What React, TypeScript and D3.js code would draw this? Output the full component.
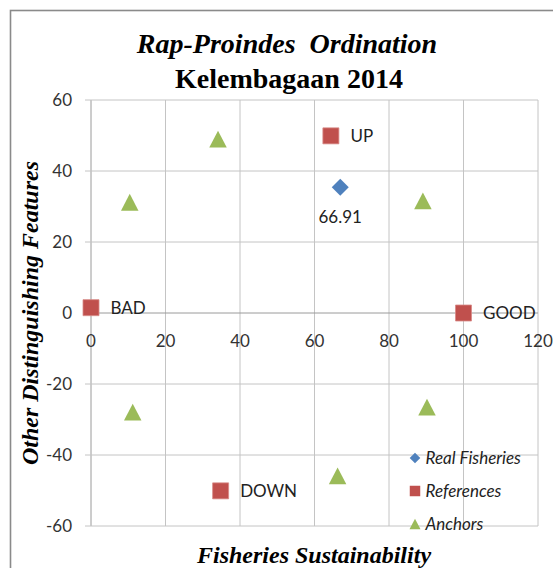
import * as d3 from "d3";

// chart values
const xTicks = [0, 20, 40, 60, 80, 100, 120];
const yTicks = [-60, -40, -20, 0, 20, 40, 60];

const realName = ["66.91"];
const realX = [66.91];
const realY = [35.4];

const refNames = ["BAD", "GOOD", "UP", "DOWN"];
const refX = [0, 100, 64.4, 34.8];
const refY = [1.5, 0, 49.9, -50.1];

const anchorX = [10.4, 34.1, 89.1, 11.2, 90.2, 66.2];
const anchorY = [31.2, 49, 31.6, -27.9, -26.5, -45.9];

const legendNames = ["Real Fisheries", "References", "Anchors"];

const W = 553;
const H = 568;
const BLUE = "#4F81BD";
const RED = "#C0504D";
const GREEN = "#9BBB59";
const LABEL_FONT = "Lato, 'Open Sans', sans-serif";
const SERIF = "'Liberation Serif', 'Times New Roman', serif";

// excel style triangle: centred on its bounding box
const triangleType = {
  draw(context, size) {
    const w = Math.sqrt(size);
    const h = w * 0.96;
    context.moveTo(0, -h / 2);
    context.lineTo(w / 2, h / 2);
    context.lineTo(-w / 2, h / 2);
    context.closePath();
  },
};

const App = () => {
  const x = d3.scaleLinear().domain([0, 120]).range([91, 538]);
  const y = d3.scaleLinear().domain([-60, 60]).range([526, 100]);

  const square = d3.symbol().type(d3.symbolSquare);
  const tri = d3.symbol().type(triangleType);

  const legendY = [458, 491, 524];

  return (
    <svg
      width={W}
      height={H}
      style={{ position: "absolute", left: 0, top: 0, background: "#fff" }}
    >
      <rect x={0} y={0} width={W} height={H} fill="#fff" />
      {/* outer frame, runs off the right and bottom */}
      <rect
        x={10.5}
        y={10.5}
        width={700}
        height={700}
        fill="none"
        stroke="#8a8a8a"
        strokeWidth={1.6}
      />

      {/* titles */}
      <text
        x={287}
        y={53}
        textAnchor="middle"
        fontFamily={SERIF}
        fontSize={28}
        fontWeight="bold"
        fontStyle="italic"
      >
        {"Rap-Proindes\u00a0\u00a0Ordination"}
      </text>
      <text
        x={289}
        y={88}
        textAnchor="middle"
        fontFamily={SERIF}
        fontSize={28}
        fontWeight="bold"
      >
        Kelembagaan 2014
      </text>

      {/* gridlines */}
      {xTicks.map((t) => (
        <line
          key={"gx" + t}
          x1={x(t)}
          x2={x(t)}
          y1={y(60)}
          y2={y(-60)}
          stroke={t === 0 ? "#9a9a9a" : "#c4c4c4"}
          strokeWidth={1}
        />
      ))}
      {yTicks.map((t) => (
        <line
          key={"gy" + t}
          x1={x(0) - 6}
          x2={x(120)}
          y1={y(t)}
          y2={y(t)}
          stroke={t === 0 ? "#9a9a9a" : "#c4c4c4"}
          strokeWidth={1}
        />
      ))}

      {/* tick labels */}
      {yTicks.map((t) => (
        <text
          key={"ty" + t}
          x={72}
          y={y(t)}
          dy="0.36em"
          textAnchor="end"
          fontFamily={LABEL_FONT}
          fontSize={17}
          fill="#333"
        >
          {t}
        </text>
      ))}
      {xTicks.map((t) => (
        <text
          key={"tx" + t}
          x={x(t)}
          y={y(0) + 34}
          textAnchor="middle"
          fontFamily={LABEL_FONT}
          fontSize={17}
          fill="#333"
        >
          {t}
        </text>
      ))}

      {/* anchors */}
      {anchorX.map((v, i) => (
        <path
          key={"a" + i}
          d={tri.size(17.5 * 17.5)()}
          transform={`translate(${x(v)},${y(anchorY[i])})`}
          fill={GREEN}
        />
      ))}

      {/* references */}
      {refX.map((v, i) => (
        <g key={"r" + i}>
          <path
            d={square.size(16 * 16)()}
            transform={`translate(${x(v)},${y(refY[i])})`}
            fill={RED}
            stroke="#d88a88"
            strokeWidth={0.8}
          />
          <text
            x={x(v) + 19.5}
            y={y(refY[i])}
            dy="0.36em"
            fontFamily={LABEL_FONT}
            fontSize={17}
            fill="#222"
          >
            {refNames[i]}
          </text>
        </g>
      ))}

      {/* real fisheries */}
      {realX.map((v, i) => (
        <g key={"f" + i}>
          <path
            d={square.size(12 * 12)()}
            transform={`translate(${x(v)},${y(realY[i])}) rotate(45)`}
            fill={BLUE}
          />
          <text
            x={x(v)}
            y={y(realY[i]) + 36}
            textAnchor="middle"
            fontFamily={LABEL_FONT}
            fontSize={17}
            fill="#222"
          >
            {realName[i]}
          </text>
        </g>
      ))}

      {/* legend */}
      <path
        d={square.size(7.5 * 7.5)()}
        transform={`translate(415,${legendY[0]}) rotate(45)`}
        fill={BLUE}
      />
      <path
        d={square.size(10.5 * 10.5)()}
        transform={`translate(415,${legendY[1]})`}
        fill={RED}
      />
      <path
        d={tri.size(11 * 11)()}
        transform={`translate(415,${legendY[2]})`}
        fill={GREEN}
      />
      {legendNames.map((n, i) => (
        <text
          key={n}
          x={425.5}
          y={legendY[i]}
          dy="0.36em"
          fontFamily={LABEL_FONT}
          fontSize={17}
          fontStyle="italic"
          fill="#222"
        >
          {n}
        </text>
      ))}

      {/* axis titles */}
      <text
        x={314}
        y={563}
        textAnchor="middle"
        fontFamily={SERIF}
        fontSize={24}
        fontWeight="bold"
        fontStyle="italic"
      >
        Fisheries Sustainability
      </text>
      <text
        transform="translate(38,313) rotate(-90)"
        textAnchor="middle"
        fontFamily={SERIF}
        fontSize={24}
        fontWeight="bold"
        fontStyle="italic"
      >
        Other Distinguishing Features
      </text>
    </svg>
  );
};

export default App;
